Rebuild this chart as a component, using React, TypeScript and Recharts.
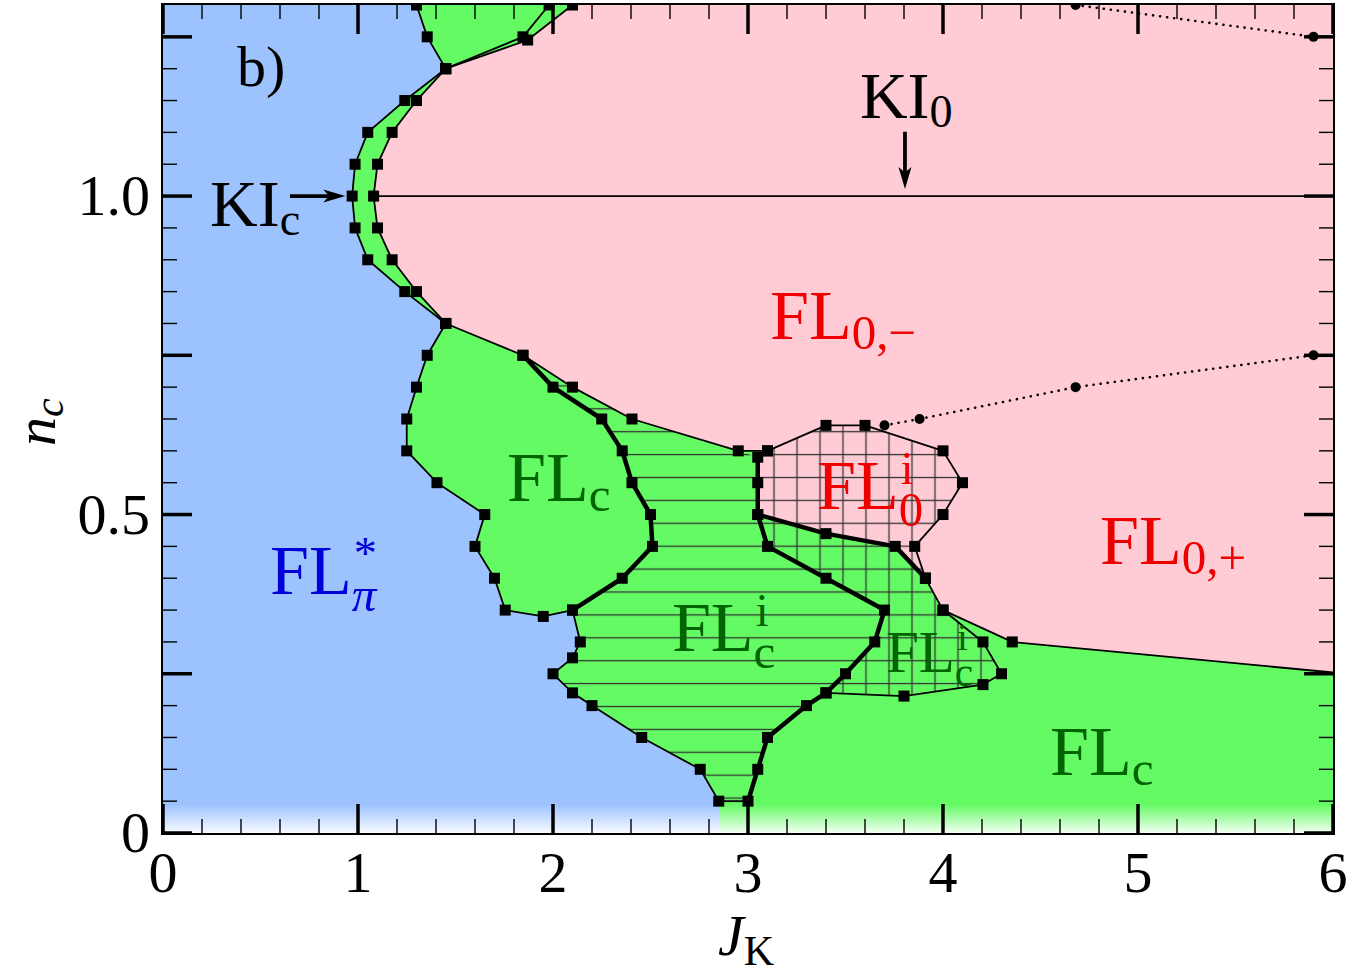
import React from 'react';
import { ScatterChart, Scatter, XAxis, YAxis } from 'recharts';

const GREEN = '#64fa64';
const BLUE = '#9dc3ff';
const PINK = '#ffccd5';
const FONT = "'Liberation Serif', 'DejaVu Serif', serif";

const TONES: Record<string, string> = {
  black: '#000000',
  red: '#ee0000',
  green: '#006400',
  blue: '#0000d8',
};

// axis ticks
const xTicks = [0, 0.2, 0.4, 0.6, 0.8, 1, 1.2, 1.4, 1.6, 1.8, 2, 2.2, 2.4, 2.6, 2.8, 3, 3.2, 3.4, 3.6, 3.8, 4, 4.2, 4.4, 4.6, 4.8, 5, 5.2, 5.4, 5.6, 5.8, 6];
const yTicks = [0, 0.05, 0.1, 0.15, 0.2, 0.25, 0.3, 0.35, 0.4, 0.45, 0.5, 0.55, 0.6, 0.65, 0.7, 0.75, 0.8, 0.85, 0.9, 0.95, 1, 1.05, 1.1, 1.15, 1.2, 1.25];
const yLabelValues = [0, 0.5, 1];
const yLabelText = ['0', '0.5', '1.0'];

type P = { x: number; y: number };

// phase boundaries (J_K, n_c)
const blueEdge: P[] = [
  { x: 1.30, y: 1.30 }, { x: 1.355, y: 1.25 }, { x: 1.45, y: 1.20 }, { x: 1.24, y: 1.15 },
  { x: 1.05, y: 1.10 }, { x: 0.985, y: 1.05 }, { x: 0.97, y: 1.00 }, { x: 0.985, y: 0.95 },
  { x: 1.05, y: 0.90 }, { x: 1.24, y: 0.85 }, { x: 1.45, y: 0.80 }, { x: 1.355, y: 0.75 },
  { x: 1.30, y: 0.70 }, { x: 1.25, y: 0.65 }, { x: 1.25, y: 0.60 }, { x: 1.405, y: 0.55 },
  { x: 1.65, y: 0.50 }, { x: 1.60, y: 0.45 }, { x: 1.70, y: 0.40 }, { x: 1.755, y: 0.35 },
  { x: 1.95, y: 0.34 }, { x: 2.10, y: 0.35 }, { x: 2.14, y: 0.30 }, { x: 2.10, y: 0.275 },
  { x: 2.0, y: 0.25 }, { x: 2.10, y: 0.22 }, { x: 2.20, y: 0.20 }, { x: 2.455, y: 0.15 },
  { x: 2.755, y: 0.10 }, { x: 2.85, y: 0.05 },
];
const baseSeg: P[] = [{ x: 2.85, y: 0.05 }, { x: 3.0, y: 0.05 }];
const bandInner: P[] = [
  { x: 2.10, y: 1.30 }, { x: 1.87, y: 1.245 }, { x: 1.45, y: 1.20 }, { x: 1.30, y: 1.15 },
  { x: 1.175, y: 1.10 }, { x: 1.10, y: 1.05 }, { x: 1.08, y: 1.00 }, { x: 1.10, y: 0.95 },
  { x: 1.175, y: 0.90 }, { x: 1.30, y: 0.85 }, { x: 1.45, y: 0.80 },
];
const greenTop: P[] = [{ x: 1.45, y: 1.20 }, { x: 1.846, y: 1.25 }, { x: 1.98, y: 1.30 }];
const pinkLower: P[] = [
  { x: 1.45, y: 0.80 }, { x: 1.846, y: 0.75 }, { x: 2.10, y: 0.70 }, { x: 2.405, y: 0.65 },
  { x: 2.95, y: 0.60 }, { x: 3.10, y: 0.60 },
];
const fl0iOutline: P[] = [
  { x: 3.10, y: 0.60 }, { x: 3.40, y: 0.64 }, { x: 3.60, y: 0.64 }, { x: 4.0, y: 0.60 },
  { x: 4.10, y: 0.55 }, { x: 4.0, y: 0.50 }, { x: 3.855, y: 0.45 }, { x: 3.91, y: 0.40 },
];
const rightEdge: P[] = [{ x: 3.91, y: 0.40 }, { x: 4.0, y: 0.35 }, { x: 4.355, y: 0.30 }, { x: 6.0, y: 0.252 }];
const gridBottom: P[] = [
  { x: 4.0, y: 0.35 }, { x: 4.205, y: 0.30 }, { x: 4.30, y: 0.25 }, { x: 4.205, y: 0.233 },
  { x: 3.80, y: 0.215 }, { x: 3.40, y: 0.22 },
];
const thickA: P[] = [
  { x: 1.846, y: 0.75 }, { x: 2.0, y: 0.70 }, { x: 2.25, y: 0.65 }, { x: 2.355, y: 0.60 },
  { x: 2.405, y: 0.55 }, { x: 2.50, y: 0.50 }, { x: 2.51, y: 0.45 }, { x: 2.355, y: 0.40 },
  { x: 2.10, y: 0.35 },
];
const thickB: P[] = [
  { x: 3.05, y: 0.59 }, { x: 3.05, y: 0.55 }, { x: 3.05, y: 0.50 }, { x: 3.10, y: 0.45 },
  { x: 3.40, y: 0.40 }, { x: 3.70, y: 0.35 }, { x: 3.65, y: 0.30 }, { x: 3.50, y: 0.25 },
  { x: 3.40, y: 0.22 }, { x: 3.30, y: 0.20 }, { x: 3.10, y: 0.15 }, { x: 3.05, y: 0.10 },
  { x: 3.0, y: 0.05 },
];
const thickC: P[] = [{ x: 3.05, y: 0.50 }, { x: 3.40, y: 0.47 }, { x: 3.755, y: 0.45 }, { x: 3.91, y: 0.40 }];
const kiLine: P[] = [{ x: 1.08, y: 1.0 }, { x: 6.0, y: 1.0 }];
const dotsLow: P[] = [{ x: 3.70, y: 0.64 }, { x: 3.88, y: 0.65 }, { x: 4.68, y: 0.70 }, { x: 5.90, y: 0.75 }];
const dotsHigh: P[] = [{ x: 4.68, y: 1.30 }, { x: 5.90, y: 1.25 }];
const arrowKIc: P[] = [{ x: 0.651, y: 1.0 }, { x: 0.935, y: 1.0 }];
const arrowKI0: P[] = [{ x: 3.805, y: 1.101 }, { x: 3.805, y: 1.011 }];

// regions assembled from the boundaries
const plotBox: P[] = [{ x: 0, y: 0 }, { x: 6, y: 0 }, { x: 6, y: 1.3 }, { x: 0, y: 1.3 }];
const fadeBand: P[] = [{ x: 0, y: 0 }, { x: 6, y: 0 }, { x: 6, y: 0.045 }, { x: 0, y: 0.045 }];
const bluePoly: P[] = [{ x: 0, y: 0 }, { x: 0, y: 1.3 }, ...blueEdge, { x: 2.855, y: 0 }];
const pinkPoly: P[] = [
  { x: 6, y: 1.3 }, ...bandInner, ...pinkLower.slice(1), ...thickB.slice(0, 3),
  ...thickC.slice(1), ...rightEdge.slice(1),
];
const hatchPoly: P[] = [
  ...thickA, ...blueEdge.slice(22), ...[...thickB].reverse(), ...pinkLower.slice(2, 5).reverse(),
];
const gridGreenPoly: P[] = [...thickC, rightEdge[1], ...gridBottom.slice(1), ...thickB.slice(3, 8).reverse()];
const gridPinkPoly: P[] = [...fl0iOutline, ...thickC.slice(0, 3).reverse(), thickB[1], thickB[0]];

type Lbl = { x: number; y: number; main: string; sub?: string; sup?: string; tone: string; small?: boolean; big?: string };
const phaseLabels: Lbl[] = [
  { x: 0.379, y: 1.173, main: 'b)', tone: 'black', big: 'b' },
  { x: 3.574, y: 1.123, main: 'KI', sub: '0', tone: 'black', big: 'k' },
  { x: 0.241, y: 0.953, main: 'KI', sub: 'c', tone: 'black', big: 'k' },
  { x: 3.113, y: 0.776, main: 'FL', sub: '0,\u2212', tone: 'red' },
  { x: 1.764, y: 0.521, main: 'FL', sub: 'c', tone: 'green' },
  { x: 3.354, y: 0.509, main: 'FL', sub: '0', sup: 'i', tone: 'red' },
  { x: 0.549, y: 0.375, main: 'FL', sub: '\u03c0', sup: '*', tone: 'blue' },
  { x: 2.610, y: 0.285, main: 'FL', sub: 'c', sup: 'i', tone: 'green' },
  { x: 3.708, y: 0.2535, main: 'FL', sub: 'c', sup: 'i', tone: 'green', small: true },
  { x: 4.805, y: 0.422, main: 'FL', sub: '0,+', tone: 'red' },
  { x: 4.549, y: 0.0913, main: 'FL', sub: 'c', tone: 'green' },
];

const SUP_EM: Record<string, number> = { i: 0.28, '*': 0.5 };

const pts = (list: { x: number; y: number }[]) => list.map((q) => `${q.x},${q.y}`).join(' ');
const noShape = () => <g />;
const squareShape = (p: any) =>
  p.payload && p.payload.x >= 6 ? <g /> : <rect x={p.cx - 5.5} y={p.cy - 5.5} width={11} height={11} fill="#000" />;
const dotShape = (p: any) => <circle cx={p.cx} cy={p.cy} r={5} fill="#000" />;

const areaFill = (fill: string) => (props: any) => <polygon points={pts(props.points)} fill={fill} stroke="none" />;
const edge = (width: number, dash?: string) => (props: any) => (
  <polyline
    points={pts(props.points)}
    fill="none"
    stroke="#000"
    strokeWidth={width}
    strokeDasharray={dash}
    strokeLinejoin="round"
    strokeLinecap={dash ? 'round' : 'butt'}
  />
);

const background = (props: any) => (
  <g>
    <defs>
      <pattern id="hatchH" patternUnits="userSpaceOnUse" x={0} y={8} width={23} height={22.9}>
        <line x1={-1} y1={11.5} x2={24} y2={11.5} stroke="#333" strokeWidth={1.3} />
      </pattern>
      <pattern id="hatchG" patternUnits="userSpaceOnUse" x={3.5} y={8} width={23} height={22.9}>
        <line x1={-1} y1={11.5} x2={24} y2={11.5} stroke="#333" strokeWidth={1.3} />
        <line x1={11.5} y1={-1} x2={11.5} y2={24} stroke="#333" strokeWidth={1.3} />
      </pattern>
      <linearGradient id="fade" x1="0" y1="0" x2="0" y2="1">
        <stop offset="0" stopColor="#ffffff" stopOpacity={0} />
        <stop offset="1" stopColor="#ffffff" stopOpacity={0.93} />
      </linearGradient>
    </defs>
    <polygon points={pts(props.points)} fill={GREEN} />
  </g>
);

const arrow = (props: any) => {
  const [a, b] = props.points;
  const dx = b.x - a.x;
  const dy = b.y - a.y;
  const len = Math.hypot(dx, dy) || 1;
  const ux = dx / len;
  const uy = dy / len;
  const hl = 22;
  const hw = 6.5;
  const bx = b.x - ux * hl;
  const by = b.y - uy * hl;
  const nx = b.x - ux * hl * 0.75;
  const ny = b.y - uy * hl * 0.75;
  return (
    <g>
      <line x1={a.x} y1={a.y} x2={nx} y2={ny} stroke="#000" strokeWidth={3.8} />
      <polygon
        points={`${b.x},${b.y} ${bx - uy * hw},${by + ux * hw} ${nx},${ny} ${bx + uy * hw},${by - ux * hw}`}
        fill="#000"
      />
    </g>
  );
};

function PhaseLabel({ cx, cy, item }: { cx: number; cy: number; item: Lbl }) {
  const size = item.big === 'b' ? 58 : item.big === 'k' ? 66 : item.small ? 59 : 70;
  const supSize = size * 0.66;
  const subSize = size * 0.7;
  const supW = item.sup ? (SUP_EM[item.sup] ?? 0.5) * supSize : 0;
  return (
    <text x={cx} y={cy} fontFamily={FONT} fontSize={size} fill={TONES[item.tone]}>
      <tspan>{item.main}</tspan>
      {item.sup && (
        <tspan dx={2} dy={-0.36 * size} fontSize={supSize}>
          {item.sup}
        </tspan>
      )}
      {item.sub && (
        <tspan
          dx={item.sup ? -supW - 2 : 0}
          dy={item.sup ? 0.6 * size : 0.14 * size}
          fontSize={subSize}
          fontStyle={item.sub === '\u03c0' ? 'italic' : 'normal'}
        >
          {item.sub}
        </tspan>
      )}
    </text>
  );
}

const BottomTick = (p: any) => {
  const v = p.payload.value;
  const major = Number.isInteger(v);
  return (
    <g>
      <line x1={p.x} x2={p.x} y1={p.y} y2={p.y - (major ? 29 : 14)} stroke="#000" strokeWidth={major ? 3.5 : 1.4} />
      {major && (
        <text x={p.x} y={p.y + 59} textAnchor="middle" fontFamily={FONT} fontSize={58} fill="#000">
          {v}
        </text>
      )}
    </g>
  );
};

const TopTick = (p: any) => {
  const major = Number.isInteger(p.payload.value);
  return <line x1={p.x} x2={p.x} y1={p.y} y2={p.y + (major ? 29 : 14)} stroke="#000" strokeWidth={major ? 3.5 : 1.4} />;
};

const isMajorY = (v: number) => Math.abs(v * 4 - Math.round(v * 4)) < 1e-9;

const LeftTick = (p: any) => {
  const v = p.payload.value;
  const major = isMajorY(v);
  const idx = yLabelValues.findIndex((w) => Math.abs(w - v) < 1e-9);
  return (
    <g>
      <line x1={p.x} x2={p.x + (major ? 29 : 14)} y1={p.y} y2={p.y} stroke="#000" strokeWidth={major ? 3.5 : 1.4} />
      {idx >= 0 && (
        <text x={p.x - 13} y={p.y + 19} textAnchor="end" fontFamily={FONT} fontSize={58} fill="#000">
          {yLabelText[idx]}
        </text>
      )}
    </g>
  );
};

const RightTick = (p: any) => {
  const major = isMajorY(p.payload.value);
  return <line x1={p.x} x2={p.x - (major ? 29 : 14)} y1={p.y} y2={p.y} stroke="#000" strokeWidth={major ? 3.5 : 1.4} />;
};

const JkTitle = () => (
  <text x={718} y={955} fontFamily={FONT} fontSize={58} fill="#000">
    <tspan fontStyle="italic">J</tspan>
    <tspan fontSize={42} dy={10}>K</tspan>
  </text>
);

const NcTitle = () => (
  <text transform="translate(55,446) rotate(-90)" fontFamily={FONT} fontSize={58} fill="#000">
    <tspan fontStyle="italic">n</tspan>
    <tspan fontStyle="italic" fontSize={42} dy={8}>c</tspan>
  </text>
);

const frameLine = { stroke: '#000', strokeWidth: 4, strokeLinecap: 'square' as const };
const on = { xAxisId: 'b', yAxisId: 'l', isAnimationActive: false };

export default function App() {
  const thinLines = [blueEdge, baseSeg, bandInner, greenTop, pinkLower, fl0iOutline, rightEdge, gridBottom, kiLine];
  const thickLines = [thickA, thickB, thickC];
  const markerSets = [blueEdge, bandInner, greenTop, pinkLower, fl0iOutline, rightEdge, gridBottom, thickA, thickB, thickC];
  return (
    <div style={{ position: 'absolute', left: 0, top: 0, width: 1350, height: 976, background: '#fff' }}>
      <ScatterChart width={1350} height={976} margin={{ top: 0, right: 0, bottom: 0, left: 0 }}>
        <Scatter {...on} data={plotBox} line={background} shape={noShape} />
        <Scatter {...on} data={bluePoly} line={areaFill(BLUE)} shape={noShape} />
        <Scatter {...on} data={pinkPoly} line={areaFill(PINK)} shape={noShape} />
        <Scatter {...on} data={hatchPoly} line={areaFill('url(#hatchH)')} shape={noShape} />
        <Scatter {...on} data={gridPinkPoly} line={areaFill('url(#hatchG)')} shape={noShape} />
        <Scatter {...on} data={gridGreenPoly} line={areaFill('url(#hatchG)')} shape={noShape} />
        <Scatter {...on} data={fadeBand} line={areaFill('url(#fade)')} shape={noShape} />

        {thinLines.map((d, i) => (
          <Scatter key={`thin-${i}`} {...on} data={d} line={edge(1.8)} shape={noShape} />
        ))}
        {thickLines.map((d, i) => (
          <Scatter key={`thick-${i}`} {...on} data={d} line={edge(4.5)} shape={noShape} />
        ))}
        <Scatter {...on} data={dotsLow} line={edge(2.6, '0.1 7')} shape={dotShape} />
        <Scatter {...on} data={dotsHigh} line={edge(2.6, '0.1 7')} shape={dotShape} />
        {markerSets.map((d, i) => (
          <Scatter key={`mk-${i}`} {...on} data={d} shape={squareShape} />
        ))}
        <Scatter {...on} data={arrowKIc} line={arrow} shape={noShape} />
        <Scatter {...on} data={arrowKI0} line={arrow} shape={noShape} />
        {phaseLabels.map((l, i) => (
          <Scatter
            key={`lbl-${i}`}
            {...on}
            data={[l]}
            shape={(p: any) => <PhaseLabel cx={p.cx} cy={p.cy} item={l} />}
          />
        ))}
        <Scatter xAxisId="t" yAxisId="r" data={plotBox} shape={noShape} isAnimationActive={false} />

        <XAxis
          xAxisId="b"
          dataKey="x"
          type="number"
          domain={[0, 6]}
          ticks={xTicks}
          interval={0}
          height={143}
          allowDataOverflow
          tickLine={false}
          tickSize={0}
          tickMargin={0}
          axisLine={frameLine}
          tick={BottomTick}
          label={JkTitle}
        />
        <XAxis
          xAxisId="t"
          orientation="top"
          dataKey="x"
          type="number"
          domain={[0, 6]}
          ticks={xTicks}
          interval={0}
          height={5}
          allowDataOverflow
          tickLine={false}
          tickSize={0}
          tickMargin={0}
          axisLine={frameLine}
          tick={TopTick}
        />
        <YAxis
          yAxisId="l"
          dataKey="y"
          type="number"
          domain={[0, 1.3]}
          ticks={yTicks}
          interval={0}
          width={163}
          allowDataOverflow
          tickLine={false}
          tickSize={0}
          tickMargin={0}
          axisLine={frameLine}
          tick={LeftTick}
          label={NcTitle}
        />
        <YAxis
          yAxisId="r"
          orientation="right"
          dataKey="y"
          type="number"
          domain={[0, 1.3]}
          ticks={yTicks}
          interval={0}
          width={17}
          allowDataOverflow
          tickLine={false}
          tickSize={0}
          tickMargin={0}
          axisLine={frameLine}
          tick={RightTick}
        />
      </ScatterChart>
    </div>
  );
}
